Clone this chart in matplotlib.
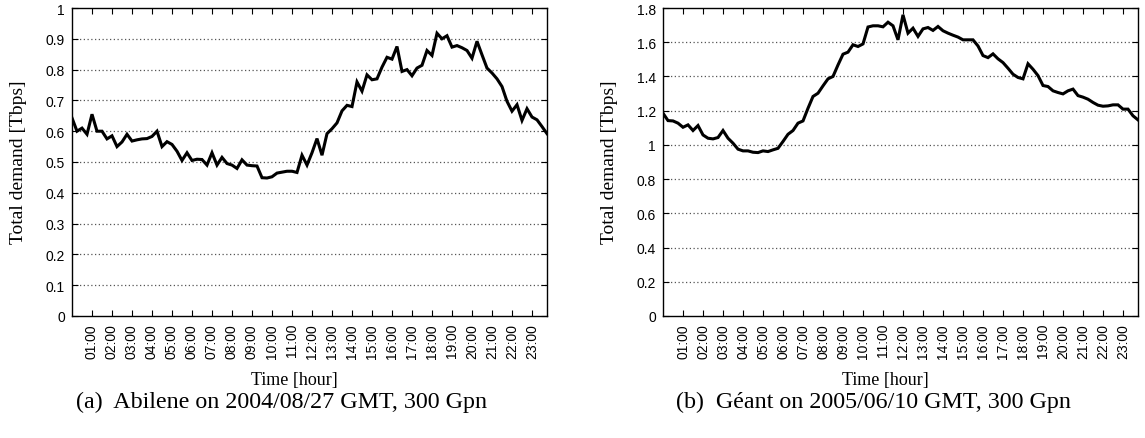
import matplotlib
matplotlib.use("Agg")
import matplotlib.pyplot as plt
from matplotlib.ticker import FixedLocator, FormatStrFormatter

# 15-minute samples of total demand over one day [Tbps]
abilene = [0.643, 0.600, 0.610, 0.590, 0.655, 0.600, 0.600, 0.575, 0.585, 0.550,
           0.565, 0.590, 0.568, 0.572, 0.575, 0.576, 0.583, 0.600, 0.550, 0.566,
           0.557, 0.535, 0.505, 0.530, 0.505, 0.509, 0.508, 0.490, 0.530, 0.490,
           0.515, 0.495, 0.490, 0.479, 0.507, 0.490, 0.488, 0.487, 0.449, 0.448,
           0.452, 0.464, 0.467, 0.470, 0.470, 0.466, 0.522, 0.490, 0.530, 0.576,
           0.522, 0.592, 0.608, 0.627, 0.666, 0.684, 0.680, 0.760, 0.730, 0.783,
           0.767, 0.770, 0.808, 0.840, 0.834, 0.875, 0.794, 0.800, 0.780, 0.805,
           0.814, 0.862, 0.846, 0.918, 0.900, 0.910, 0.873, 0.878, 0.871, 0.862,
           0.837, 0.892, 0.848, 0.805, 0.789, 0.770, 0.745, 0.697, 0.665, 0.686,
           0.635, 0.673, 0.646, 0.637, 0.615, 0.592]

geant = [1.185, 1.142, 1.140, 1.127, 1.103, 1.117, 1.084, 1.113, 1.058, 1.039,
         1.035, 1.043, 1.084, 1.039, 1.010, 0.975, 0.965, 0.965, 0.957, 0.955,
         0.965, 0.961, 0.971, 0.980, 1.020, 1.062, 1.084, 1.127, 1.140, 1.214,
         1.283, 1.302, 1.345, 1.386, 1.400, 1.467, 1.530, 1.542, 1.585, 1.575,
         1.590, 1.689, 1.696, 1.696, 1.690, 1.717, 1.696, 1.614, 1.760, 1.653,
         1.682, 1.634, 1.678, 1.686, 1.669, 1.692, 1.667, 1.653, 1.641, 1.630,
         1.614, 1.614, 1.614, 1.578, 1.522, 1.510, 1.532, 1.503, 1.481, 1.448,
         1.413, 1.394, 1.386, 1.474, 1.442, 1.405, 1.347, 1.341, 1.316, 1.306,
         1.298, 1.316, 1.326, 1.288, 1.279, 1.267, 1.248, 1.232, 1.226, 1.228,
         1.234, 1.234, 1.209, 1.209, 1.170, 1.146]

hours = list(range(1, 24))
hour_labels = ["%02d:00" % h for h in hours]

captions = ["(a)  Abilene on 2004/08/27 GMT, 300 Gpn",
            "(b)  Géant on 2005/06/10 GMT, 300 Gpn"]

SANS = "Liberation Sans"
SERIF = "Liberation Serif"

fig = plt.figure(figsize=(11.45, 4.39), dpi=100)
W, H = 1145.0, 439.0


def panel(left_px, values, ymax, ystep, caption):
    ax = fig.add_axes([left_px / W, (H - 317) / H, 475 / W, 308 / H])
    x = list(range(len(values)))
    ax.plot(x, values, color="black", lw=2.2, solid_joinstyle="miter")
    ax.set_xlim(0, len(values) - 1)
    ax.set_ylim(0, ymax)

    # one tick per hour, four samples per hour
    ax.xaxis.set_major_locator(FixedLocator([4 * h for h in hours]))
    ax.set_xticklabels(hour_labels, rotation=90, family=SANS, fontsize=10)
    n = int(round(ymax / ystep))
    yt = [round(k * ystep, 2) for k in range(n + 1)]
    ax.set_yticks(yt)
    ax.yaxis.set_major_formatter(FormatStrFormatter("%g"))
    for lab in ax.get_yticklabels():
        lab.set_family(SANS)
        lab.set_fontsize(10)

    for v in yt[1:-1]:
        ax.axhline(v, color="#555555", lw=0.9, ls=(0, (1, 2)), zorder=0)

    ax.tick_params(direction="in", top=True, right=True, length=4, width=0.8,
                   pad=5)
    for s in ax.spines.values():
        s.set_linewidth(1.0)

    fig.text((left_px + 222) / W, (H - 381) / H, "Time [hour]", ha="center",
             va="center", family=SERIF, fontsize=13)
    fig.text((left_px - 53) / W, (H - 162) / H, "Total demand [Tbps]",
             rotation=90, ha="center", va="center", family=SERIF, fontsize=14)
    fig.text((left_px + 210) / W, (H - 402) / H, caption, ha="center",
             va="center", family=SERIF, fontsize=17.3)
    return ax


panel(72, abilene, 1.0, 0.1, captions[0])
panel(663, geant, 1.8, 0.2, captions[1])

fig.savefig("out.png", dpi=100)
